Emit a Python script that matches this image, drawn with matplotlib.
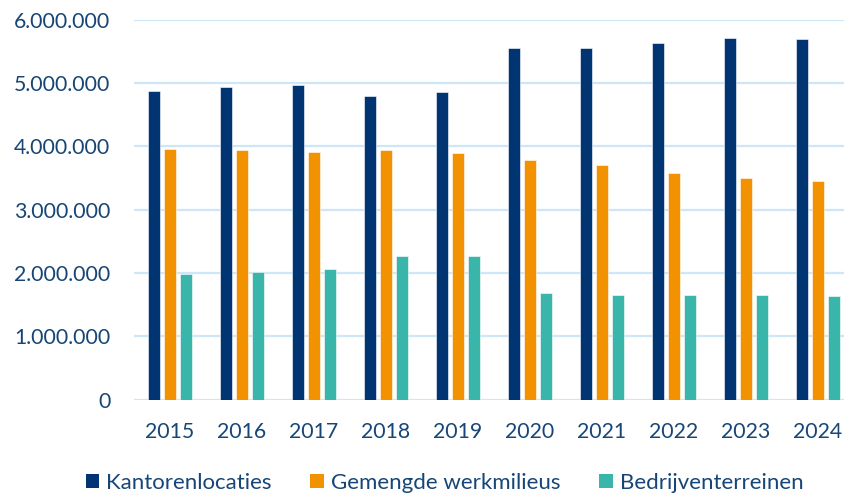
import numpy as np
import matplotlib
matplotlib.use('Agg')
import matplotlib.pyplot as plt
from matplotlib.ticker import FuncFormatter, MultipleLocator
from matplotlib.patches import Patch

years = ['2015', '2016', '2017', '2018', '2019', '2020', '2021', '2022', '2023', '2024']
kantoren = [4870000, 4940000, 4970000, 4800000, 4860000, 5550000, 5550000, 5640000, 5710000, 5700000]
gemengd = [3960000, 3950000, 3910000, 3940000, 3900000, 3790000, 3700000, 3580000, 3500000, 3450000]
bedrijven = [1990000, 2020000, 2070000, 2270000, 2270000, 1680000, 1660000, 1650000, 1650000, 1640000]
series_names = ['Kantorenlocaties', 'Gemengde werkmilieus', 'Bedrijventerreinen']
colors = ['#003473', '#F39200', '#3AB5AA']

text_col = '#174676'
plt.rcParams['font.family'] = ['Lato', 'DejaVu Sans']

fig = plt.figure(figsize=(8.45, 4.96), dpi=100)
ax = fig.add_axes([134 / 845, 96.5 / 496, 720 / 845, 379.5 / 496])

x = np.arange(len(years))
w = 0.171
step = 0.222
for i, (vals, col) in enumerate(zip([kantoren, gemengd, bedrijven], colors)):
    ax.bar(x + (i - 1) * step, vals, width=w, color=col, edgecolor='white',
           linewidth=0.4, zorder=3)

ax.set_xlim(-0.5, len(years) - 0.5)
ax.set_ylim(0, 6000000)
ax.yaxis.set_major_locator(MultipleLocator(1000000))
ax.yaxis.set_major_formatter(FuncFormatter(lambda v, p: f'{int(v):,}'.replace(',', '.')))
ax.set_xticks(x)
ax.set_xticklabels(years)
ax.grid(axis='y', color='#CDE6F8', linewidth=1.6, zorder=0)
ax.set_axisbelow(True)
for s in ax.spines.values():
    s.set_visible(False)
ax.tick_params(axis='both', length=0, labelsize=15.3, labelcolor=text_col)
ax.tick_params(axis='y', pad=17)
ax.tick_params(axis='x', pad=16)

handles = [Patch(facecolor=c, edgecolor='none') for c in colors]
fig.legend(handles, series_names, loc='center', ncol=3,
           bbox_to_anchor=(444.5 / 845, 1 - 483 / 496), frameon=False,
           fontsize=16, labelcolor=text_col, handlelength=0.62, handleheight=0.62,
           handletextpad=0.3, columnspacing=1.75, borderpad=0, borderaxespad=0)

fig.savefig('out.png', dpi=100)
